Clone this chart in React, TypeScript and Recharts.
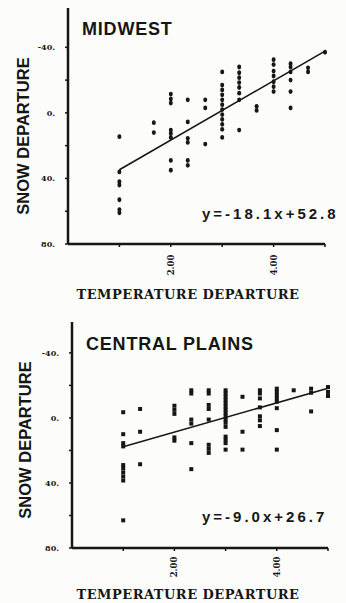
import { ScatterChart, Scatter, XAxis, YAxis, ReferenceLine } from 'recharts';

const INK = '#161616';

// temperature departure columns (x) and the snow departures plotted at each one
const midwestTemps = [1, 1.67, 2, 2.33, 2.67, 3, 3.33, 3.67, 4, 4.33, 4.67, 5];
const midwestSnow = [
  [14.5, 36, 42, 44, 53, 59, 61],
  [6, 12],
  [-11.5, -8.5, -6, 10.5, 12.5, 15, 29, 35],
  [-8, 5.5, 15.5, 18, 29, 32],
  [-8, -3, 19],
  [-25, -17, -14, -11, -8, -5, -2, 1, 4, 7, 10, 15],
  [-28, -24.5, -21.5, -18.5, -15.5, -12, -8, 10.5],
  [-4, -1.5],
  [-32.5, -29.5, -25.5, -22.5, -19, -16, -13],
  [-30, -28, -25, -20, -13, -3],
  [-27.5, -25],
  [-37],
];

const plainsTemps = [1, 1.33, 2, 2.33, 2.67, 3, 3.33, 3.67, 4, 4.33, 4.67, 5];
const plainsSnow = [
  [-3.5, 10, 15.5, 17.5, 29, 31, 33.5, 36, 38.5, 63],
  [-5.5, 8.5, 28.5],
  [-7.5, -5, -2.5, 12, 14],
  [-17, -15, 1, 3.5, 15.5, 31.5],
  [-17, -15, -8, -5.5, 1, 16.5, 19, 21.5],
  [-17, -15, -13, -11, -9, -7, -5, -3, -1, 1, 3, 5.5, 11.5, 13.5, 15.5, 19.5],
  [-13, 8.5, 19.5],
  [-17, -15, -12, -6.5, -1, 1.5, 5],
  [-18, -16, -14, -12, -10, -6, 7.5, 19.5],
  [-17],
  [-18, -15.5, -4],
  [-19, -16, -13.5],
];

// regression fits printed on the panels
const midwestFit = [-18.1, 52.8];
const plainsFit = [-9.0, 26.7];
const fitRange = [1, 5];

const xTicks = [1, 2, 3, 4, 5];
const xLabelled = [2, 4];
const yTicks = [-40, -20, 0, 20, 40, 60, 80];
const yLabelled = [-40, 0, 40, 80];

const toPoints = (temps: number[], snow: number[][]) =>
  temps.flatMap((t, i) => snow[i].map(s => ({ x: t, y: s })));

const serif = '"DejaVu Serif", serif';
const sans = '"Liberation Sans", Arial, sans-serif';

const Dot = (p: any) => <ellipse cx={p.cx} cy={p.cy} rx={2} ry={2.4} fill={INK} />;
const Square = (p: any) => <rect x={p.cx - 2} y={p.cy - 2} width={4} height={4} fill={INK} />;

const YTick = ({ x, y, payload }: any) =>
  yLabelled.includes(payload.value) ? (
    <text x={x} y={y} textAnchor="end" dominantBaseline="central" fontFamily={serif} fontWeight="bold" fontSize={8} fill={INK}>
      {payload.value}.
    </text>
  ) : <g />;

const XTick = ({ x, y, payload }: any) =>
  xLabelled.includes(payload.value) ? (
    <text x={x} y={y} transform={`rotate(-90 ${x} ${y})`} textAnchor="middle" dominantBaseline="central" fontFamily={serif} fontWeight="bold" fontSize={8.5} fill={INK}>
      {payload.value.toFixed(2)}
    </text>
  ) : <g />;

function Panel({ title, data, fit, shape, yDomain, margin, yWidth, xTickGap, titleY, eqY, yLabelX, yLabelY, eq }: any) {
  const [m, b] = fit;
  return (
    <ScatterChart width={346} height={303} margin={margin}>
      <XAxis
        type="number"
        dataKey="x"
        domain={[0, 5]}
        ticks={xTicks}
        interval={0}
        height={40}
        axisLine={{ stroke: INK, strokeWidth: 2.5 }}
        tickLine={{ stroke: INK, strokeWidth: 1.5 }}
        tickSize={3}
        tickMargin={xTickGap}
        tick={<XTick />}
      />
      <YAxis
        type="number"
        dataKey="y"
        reversed
        domain={yDomain}
        allowDataOverflow
        ticks={yTicks}
        interval={0}
        width={yWidth}
        axisLine={{ stroke: INK, strokeWidth: 2.5 }}
        tickLine={{ stroke: INK, strokeWidth: 1.5 }}
        tickSize={3}
        tickMargin={10}
        tick={<YTick />}
      />
      <ReferenceLine
        segment={[
          { x: fitRange[0], y: m * fitRange[0] + b },
          { x: fitRange[1], y: m * fitRange[1] + b },
        ]}
        stroke={INK}
        strokeWidth={1.6}
        ifOverflow="visible"
      />
      <Scatter data={data} shape={shape} isAnimationActive={false} />
      <text x={yWidth + 14} y={titleY} fontFamily={sans} fontWeight="bold" fontSize={18} letterSpacing={0.8} fill={INK}>
        {title}
      </text>
      <text x={202} y={eqY} fontFamily={sans} fontWeight="bold" fontSize={15} letterSpacing={3} fill={INK}>
        {eq}
      </text>
      <text
        x={yLabelX}
        y={yLabelY}
        transform={`rotate(-90 ${yLabelX} ${yLabelY})`}
        textAnchor="middle"
        dominantBaseline="central"
        fontFamily={sans}
        fontWeight="bold"
        fontSize={16.5}
        fill={INK}
      >
        SNOW DEPARTURE
      </text>
      <text x={188} y={299} textAnchor="middle" fontFamily={serif} fontWeight="bold" fontSize={13} letterSpacing={0.5} fill={INK}>
        TEMPERATURE DEPARTURE
      </text>
    </ScatterChart>
  );
}

export default function App() {
  return (
    <div style={{ position: 'absolute', left: 0, top: 0, width: 346, height: 603, background: '#fcfcfb', overflow: 'hidden' }}>
      <div style={{ position: 'absolute', left: 0, top: 0 }}>
        <Panel
          title="MIDWEST"
          eq="y=-18.1x+52.8"
          data={toPoints(midwestTemps, midwestSnow)}
          fit={midwestFit}
          shape={Dot}
          yDomain={[-64, 80]}
          margin={{ top: 8, right: 21, left: 0, bottom: 19 }}
          yWidth={68}
          xTickGap={18}
          titleY={35}
          eqY={219}
          yLabelX={23}
          yLabelY={136}
        />
      </div>
      <div style={{ position: 'absolute', left: 0, top: 300 }}>
        <Panel
          title="CENTRAL PLAINS"
          eq="y=-9.0x+26.7"
          data={toPoints(plainsTemps, plainsSnow)}
          fit={plainsFit}
          shape={Square}
          yDomain={[-59, 80]}
          margin={{ top: 22, right: 18, left: 0, bottom: 15 }}
          yWidth={72}
          xTickGap={16}
          titleY={50}
          eqY={222}
          yLabelX={25}
          yLabelY={140}
        />
      </div>
    </div>
  );
}
